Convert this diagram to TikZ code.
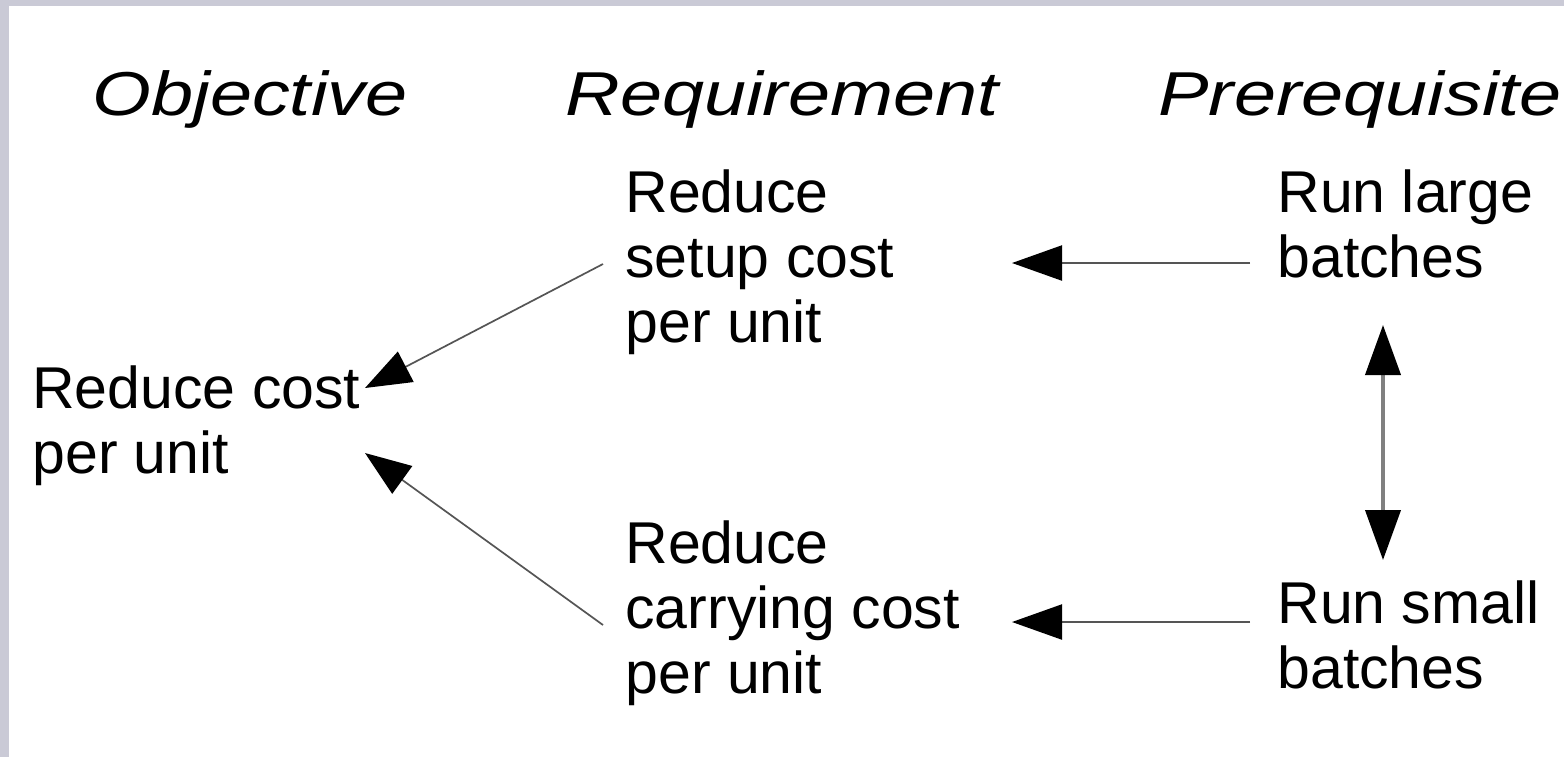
\documentclass[tikz,border=0pt]{standalone}
\usepackage{fontspec}
\setmainfont{Liberation Sans}
\usetikzlibrary{arrows.meta}
\definecolor{bordergray}{RGB}{202,202,214}
\definecolor{linegray}{RGB}{85,85,85}
\definecolor{vgray}{RGB}{128,128,128}
\newcommand{\headtext}[1]{\scalebox{1.22}[1]{\itshape #1}}
\newcommand{\lines}[1]{\begin{tabular}[t]{@{}l@{}}#1\end{tabular}}
\begin{document}
\begin{tikzpicture}[x=0.5pt,y=-0.5pt,
  head/.style={font=\fontsize{31}{34}\selectfont, inner sep=0pt, anchor=base west},
  body/.style={font=\fontsize{29.5}{32.5}\selectfont, inner sep=0pt, anchor=base west},
  harrow/.style={draw=linegray, line width=1.1pt, -{Triangle[length=25pt,width=17.5pt]}, arrows={[color=black]}},
  darrow/.style={draw=linegray, line width=0.85pt, -{Triangle[length=23pt,width=17pt]}, arrows={[color=black]}},
  varrow/.style={draw=vgray, line width=2pt, {Triangle[length=25pt,width=17.5pt]}-{Triangle[length=25pt,width=17.5pt]}, arrows={[color=black]}}
]
\useasboundingbox (0,0) rectangle (1564,757);
\fill[bordergray] (0,0) rectangle (1564,757);
\fill[white] (9,6) rectangle (1564,757);

% headings
\node[head] (hobj) at (92,115) {\headtext{Objective}};
\node[head] (hreq) at (565,115) {\headtext{Requirement}};
\node[head] (hpre) at (1158,115) {\headtext{Prerequisite}};

% text blocks
\node[body] (obj) at (32,408) {\lines{Reduce cost\\per unit}};
\node[body] (setup) at (625,212) {\lines{Reduce\\setup cost\\per unit}};
\node[body] (carry) at (625,563) {\lines{Reduce\\carrying cost\\per unit}};
\node[body] (large) at (1277,212) {\lines{Run large\\batches}};
\node[body] (small) at (1277,623) {\lines{Run small\\batches}};

% connector end points
\coordinate (s1) at (603,264);
\coordinate (e1) at (365,388);
\coordinate (s2) at (603,625);
\coordinate (e2) at (365,453);
\coordinate (s3) at (1250,263);
\coordinate (e3) at (1012,263);
\coordinate (s4) at (1250,622);
\coordinate (e4) at (1012,622);
\coordinate (vt) at (1383,325);
\coordinate (vb) at (1383,560);

\draw[darrow] (s1) -- (e1);
\draw[darrow] (s2) -- (e2);
\draw[harrow] (s3) -- (e3);
\draw[harrow] (s4) -- (e4);
\draw[varrow] (vt) -- (vb);
\end{tikzpicture}
\end{document}
